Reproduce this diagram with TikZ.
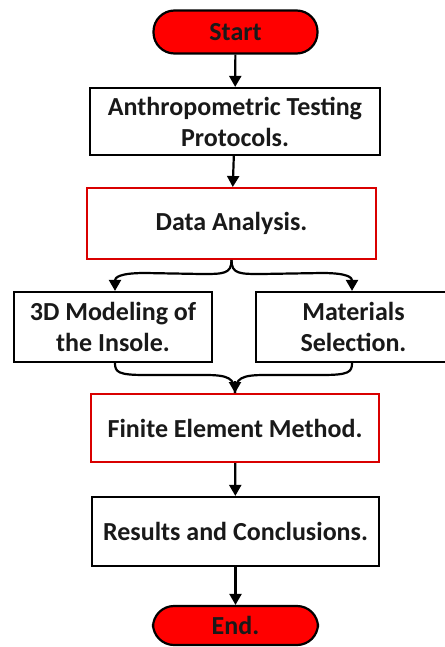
\documentclass[tikz,border=0pt]{standalone}
\usepackage{fontspec}
\setmainfont{Carlito}
\usetikzlibrary{arrows.meta,calc}
\begin{document}
\begin{tikzpicture}[x=1pt,y=-1pt,
  txt/.style={font=\bfseries\fontsize{26}{31}\selectfont, align=center, text=black!90},
  blackbox/.style={txt, draw=black, line width=2.2pt, fill=white, inner sep=0pt},
  redbox/.style={txt, draw=red!85!black, line width=2pt, fill=white, inner sep=0pt},
  term/.style={txt, draw=black, line width=2.2pt, fill=red, rounded corners=21pt, inner sep=0pt},
  conn/.style={draw=black, line width=2.2pt, -{Triangle[length=11pt,width=12pt]}},
  plainline/.style={draw=black, line width=2.2pt}]
\useasboundingbox (0,0) rectangle (444,647);
\node[term, minimum width=164pt, minimum height=43pt] (start) at (235.5,32) {Start};
\node[blackbox, minimum width=290pt, minimum height=67pt] (anthro) at (235,121.5) {Anthropometric Testing\\Protocols.};
\node[redbox, minimum width=289pt, minimum height=71pt] (data) at (231.5,223.5) {Data Analysis.};
\node[blackbox, minimum width=198pt, minimum height=70pt] (model) at (113,327) {3D Modeling of\\the Insole.};
\node[blackbox, minimum width=195pt, minimum height=70pt] (mat) at (353.5,327) {Materials\\Selection.};
\node[redbox, minimum width=288pt, minimum height=68pt] (fem) at (235,428) {Finite Element Method.};
\node[blackbox, minimum width=287pt, minimum height=69pt] (res) at (235.5,531.5) {Results and Conclusions.};
\node[term, minimum width=165pt, minimum height=39pt] (end) at (235.5,625.5) {End.};
\coordinate (dsplit) at (data.south);
\coordinate (mjoin) at (fem.north);
\coordinate (mtop) at ($(model.north)+(2,0)$);
\coordinate (mbot) at ($(model.south)+(2,0)$);
\coordinate (stop) at ($(mat.north)+(-1.5,0)$);
\coordinate (sbot) at ($(mat.south)+(-1.5,0)$);
\draw[conn] (start) -- (anthro);
\draw[conn] (anthro) -- (data);
\draw[conn] (dsplit) .. controls ($(dsplit)+(0,14)$) and ($(dsplit)+(-8,14)$) .. ($(dsplit)+(-30,14)$) -- (145,273) .. controls (118,273) and (115,278) .. (mtop);
\draw[conn] (dsplit) .. controls ($(dsplit)+(0,14)$) and ($(dsplit)+(8,14)$) .. ($(dsplit)+(30,14)$) -- (322,273) .. controls (349,273) and (352,278) .. (stop);
\draw[plainline] (mbot) .. controls (115,372) and (118,375) .. (145,375) -- (205,375) .. controls (228,375) and (235,378) .. (mjoin);
\draw[plainline] (sbot) .. controls (352,372) and (349,375) .. (322,375) -- (265,375) .. controls (242,375) and (235,378) .. (mjoin);
\draw[conn] ($(mjoin)+(0,-12)$) -- (mjoin);
\draw[conn] (fem) -- (res);
\draw[conn] (res) -- (end);
\end{tikzpicture}
\end{document}
